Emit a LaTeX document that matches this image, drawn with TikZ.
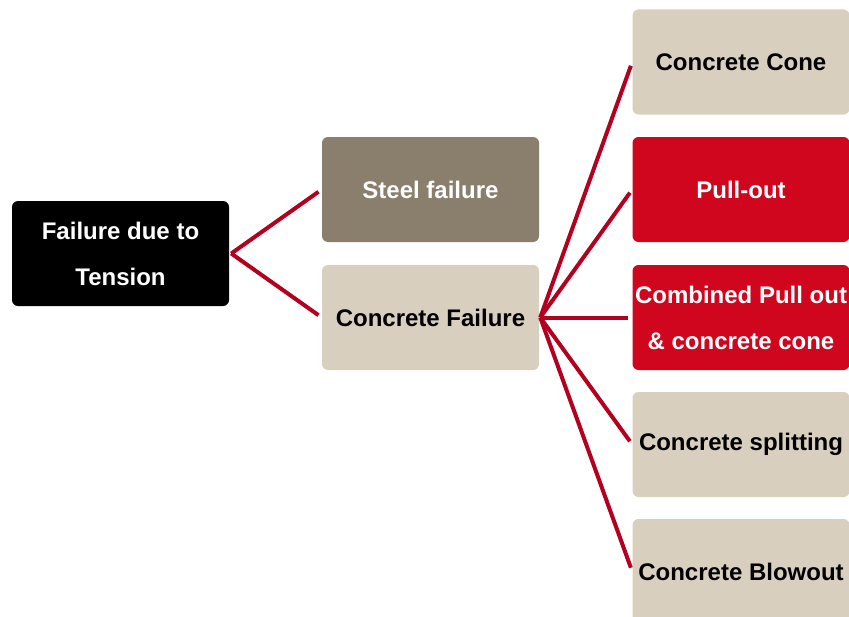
\documentclass[tikz,border=0pt]{standalone}
\usepackage{fontspec}
\setmainfont{Liberation Sans}
\usepackage{tikz}

\definecolor{rootblack}{HTML}{000000}
\definecolor{steelgrey}{HTML}{8A7F6C}
\definecolor{sandbeige}{HTML}{D8CFBE}
\definecolor{failred}{HTML}{D0061E}
\definecolor{linkred}{HTML}{B3001E}

\begin{document}
\begin{tikzpicture}[
    x=0.75pt, y=-0.75pt,
    every node/.style={rectangle,rounded corners=4.5pt,minimum width=162.75pt,
        minimum height=78.75pt,inner sep=0pt,align=center,
        font=\fontsize{18}{34.5}\selectfont\bfseries},
    darkbox/.style={fill=rootblack,text=white},
    greybox/.style={fill=steelgrey,text=white},
    sandbox/.style={fill=sandbeige,text=black},
    redbox/.style={fill=failred,text=white},
    link/.style={draw=linkred,line width=3pt,shorten >=3pt}
]
\useasboundingbox (0,0) rectangle (849,617);

% Root and the two kinds of failure
\node[darkbox] (T) at (120.5,253.5) {Failure due to\\Tension};
\node[greybox] (S) at (430.5,189.5) {Steel failure};
\node[sandbox] (C) at (430.5,317.5) {Concrete Failure};

% Concrete failure modes
\node[sandbox] (C1) at (741,62) {Concrete Cone};
\node[redbox]  (C2) at (741,189.5) {Pull-out};
\node[redbox]  (C3) at (741,317.5) {Combined Pull out\\\& concrete cone};
\node[sandbox] (C4) at (741,444.5) {Concrete splitting};
\node[sandbox] (C5) at (741,571.5) {Concrete Blowout};

% Branching points
\coordinate (J1) at ([xshift=1.5pt]T.east);
\coordinate (J2) at ([xshift=0.75pt]C.east);

% Connectors
\draw[link] (J1) -- (S.west);
\draw[link] (J1) -- (C.west);
\draw[link] (J2) -- (C1.west);
\draw[link] (J2) -- (C2.west);
\draw[link] (J2) -- (C3.west);
\draw[link] (J2) -- (C4.west);
\draw[link] (J2) -- (C5.west);
\end{tikzpicture}
\end{document}
